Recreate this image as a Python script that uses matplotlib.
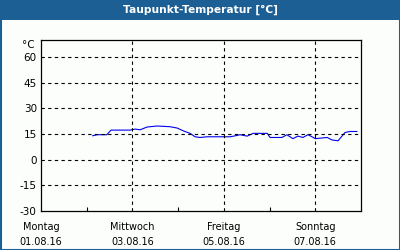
import matplotlib
matplotlib.use('Agg')
import matplotlib.pyplot as plt
from matplotlib.patches import Rectangle

# dew point readings, x in days since Monday 00:00
days = [1.13, 1.23, 1.44, 1.53, 1.95, 2.06, 2.17, 2.32, 2.54, 2.82, 2.98, 3.11,
        3.26, 3.37, 3.48, 3.63, 3.98, 4.14, 4.29, 4.35, 4.51, 4.64, 4.95, 5.01,
        5.27, 5.38, 5.51, 5.62, 5.73, 5.84, 5.93, 6.00, 6.26, 6.37, 6.50, 6.65,
        6.76, 6.91]
temps = [14.0, 14.6, 14.6, 17.3, 17.3, 17.9, 17.5, 19.1, 19.7, 19.3, 18.5, 16.9,
         15.4, 13.4, 13.0, 13.4, 13.4, 13.4, 14.2, 14.6, 13.8, 15.4, 15.4, 13.0,
         13.0, 14.6, 12.3, 13.8, 13.0, 14.6, 13.4, 12.3, 13.0, 11.5, 11.1, 15.9,
         16.5, 16.5]

day_pos = [0, 2, 4, 6]
day_labels = ['Montag\n01.08.16', 'Mittwoch\n03.08.16', 'Freitag\n05.08.16', 'Sonntag\n07.08.16']
y_ticks = [-30, -15, 0, 15, 30, 45, 60]

blue = '#1b5f95'
plt.rcParams['font.family'] = ['DejaVu Sans']

fig = plt.figure(figsize=(4, 2.5), dpi=100)
fig.patch.set_facecolor('#fcfefc')

# header bar and frame
fig.patches.append(Rectangle((0, 230/250), 1, 20/250, transform=fig.transFigure,
                             facecolor=blue, edgecolor='none', zorder=0))
fig.patches.append(Rectangle((0.5/400, 0.5/250), 399/400, 249/250, transform=fig.transFigure,
                             facecolor='none', edgecolor=blue, linewidth=1.5, zorder=5))
fig.text(0.5, 240/250, 'Taupunkt-Temperatur [°C]', color='white', fontsize=7.7,
         fontweight='bold', ha='center', va='center')

ax = fig.add_axes([41/400, 39/250, 320/400, 171/250])
ax.set_facecolor('#fcfefc')
ax.plot(days, temps, color='#0000ee', linewidth=0.8)

ax.set_xlim(0, 7)
ax.set_ylim(-30, 70)
ax.set_xticks(day_pos)
ax.set_xticklabels(day_labels, fontsize=7, linespacing=1.6)
ax.set_xticks([1, 3, 5], minor=True)
ax.set_yticks(y_ticks)
ax.set_yticklabels([str(v) for v in y_ticks], fontsize=7.5)
ax.tick_params(axis='x', which='major', length=0, pad=8)
ax.tick_params(axis='x', which='minor', direction='in', length=3, width=0.8)
ax.tick_params(axis='y', length=0, pad=3)

for v in y_ticks[1:]:
    ax.axhline(v, color='black', linestyle=(0, (3, 3)), linewidth=0.8)
for d in day_pos[1:]:
    ax.axvline(d, color='black', linestyle=(0, (3, 3)), linewidth=0.8)

for s in ax.spines.values():
    s.set_linewidth(0.9)

ax.text(-0.02, 67, '°C', fontsize=7.5, ha='right', va='center',
        transform=ax.get_yaxis_transform())

fig.savefig('out.png', dpi=100, facecolor=fig.get_facecolor())
